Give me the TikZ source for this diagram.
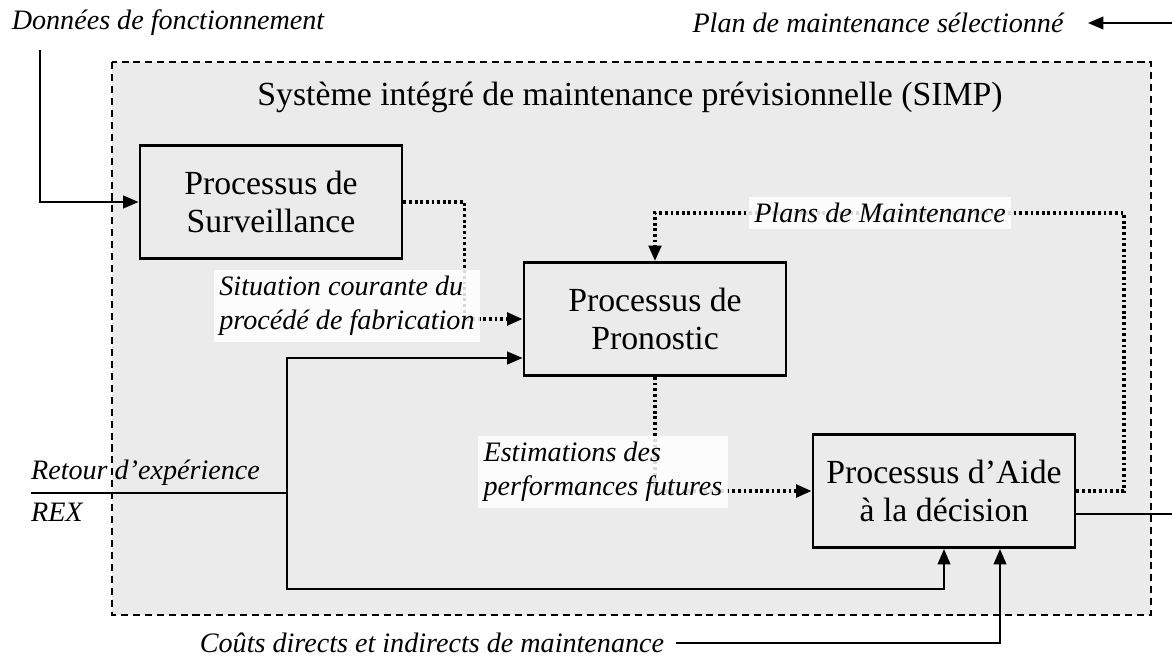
\documentclass[tikz,border=0pt]{standalone}
\usepackage{fontspec}
\setmainfont{Liberation Serif}
\usetikzlibrary{arrows.meta,calc}

\begin{document}
\begin{tikzpicture}[x=0.025cm,y=-0.025cm,
  boite/.style={draw,line width=2pt,minimum width=6.55cm,minimum height=2.83cm,align=center,font=\fontsize{24}{27}\selectfont},
  etiq/.style={font=\fontsize{20}{24.5}\selectfont\itshape,inner sep=2pt},
  fond/.style={fill=white,fill opacity=0.85,text opacity=1,inner sep=4pt},
  trait/.style={line width=1.6pt},
  plein/.style={trait,-{Triangle[length=11pt,width=9pt]}},
  pointille/.style={line width=2.3pt,dash pattern=on 2pt off 2pt,-{Triangle[length=11pt,width=9pt]}}]
\useasboundingbox (0,0) rectangle (1172,657);
\draw[line width=1pt,dash pattern=on 5pt off 3.5pt,fill=black!8] (112,62) rectangle (1151,615);
\node[font=\fontsize{24}{27}\selectfont] (titre) at (630,97) {Système intégré de maintenance prévisionnelle (SIMP)};

\node[boite] (surv) at (271,202) {Processus de\\Surveillance};
\node[boite] (prono) at (655,319) {Processus de\\Pronostic};
\node[boite] (aide) at (944,491) {Processus d’Aide\\à la décision};

\node[etiq] (donnees) at (168,23) {Données de fonctionnement};
\node[etiq] (plansel) at (878,23) {Plan de maintenance sélectionné};
\node[etiq,anchor=west] (retour) at (28,473) {Retour d’expérience};
\node[etiq,anchor=west] (rex) at (28,512) {REX};
\node[etiq] (couts) at (432,643) {Coûts directs et indirects de maintenance};

\coordinate (entree) at (40,50);
\coordinate (sortie) at (1172,23);
\coordinate (fleche) at (1088,23);
\coordinate (bord) at (1172,514);
\coordinate (rexin) at (31,493);
\coordinate (rexj) at (287,493);
\coordinate (rexbas) at (287,589);

\draw[pointille] (surv.east) -- ++(61,0) |- (prono.west);
\draw[pointille] (prono.south) |- (aide.west);
\draw[pointille] (aide.east) -| (1124,213) -| (prono.north);

\node[etiq,fond,align=left] (situation) at (347,306) {Situation courante du\\procédé de fabrication};
\node[etiq,fond,align=left] (estim) at (603,472) {Estimations des\\performances futures};
\node[etiq,fond] (plans) at (880,213) {Plans de Maintenance};

\draw[plein] (entree) |- (surv.west);
\draw[plein] (sortie) -- (fleche);
\draw[trait] (rexin) -- (rexj);
\draw[plein] (rexj) |- ($(prono.west)+(0,39)$);
\draw[plein] (rexj) -- (rexbas) -| (aide.south);
\draw[plein,shorten <=6pt] (couts.east) -| ($(aide.south)+(56,0)$);
\draw[trait] ($(aide.east)+(0,23)$) -- (bord);
\end{tikzpicture}
\end{document}
